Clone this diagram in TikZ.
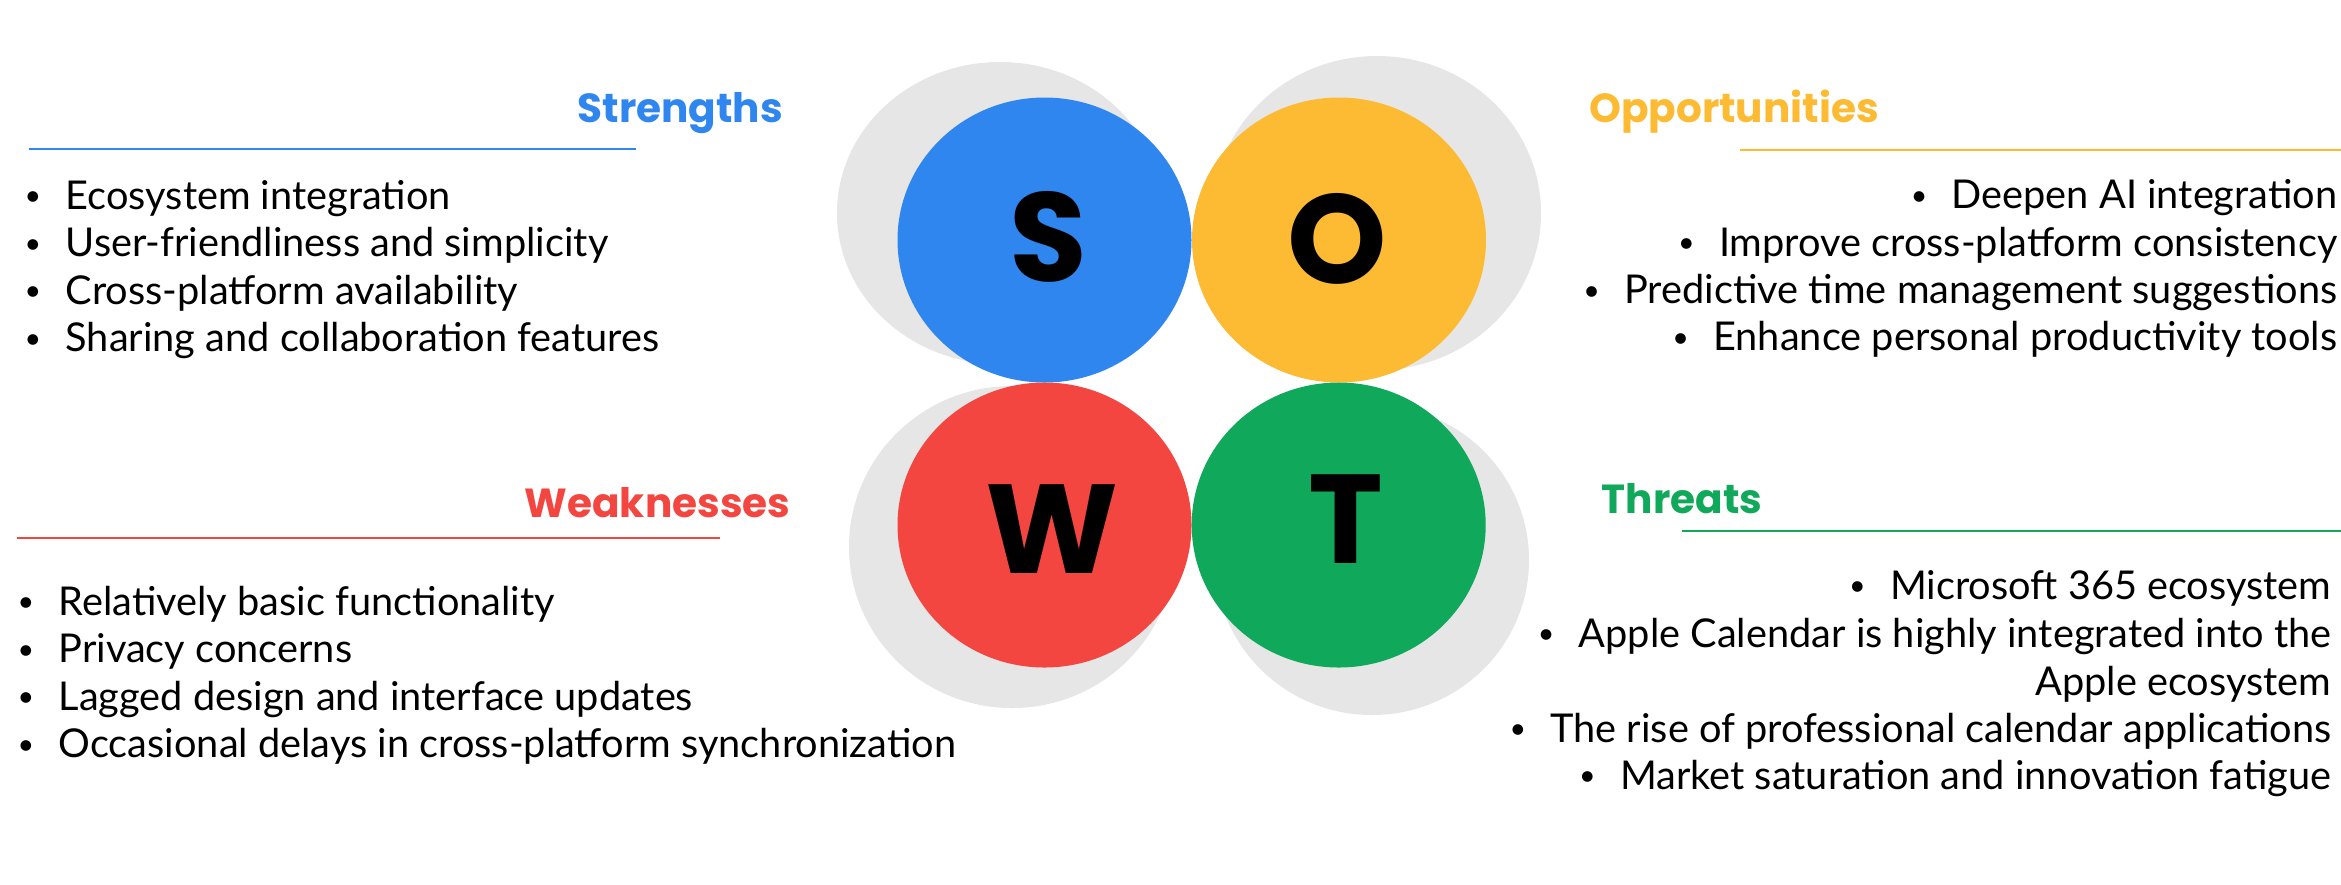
\documentclass[tikz,border=0pt]{standalone}
\usepackage{fontspec}
\setmainfont{Lato}
\newfontfamily\bodyfont{Lato}
\newfontfamily\letterfont{Poppins}
\usetikzlibrary{shapes.geometric}
\definecolor{sblue}{HTML}{2E86EE}
\definecolor{oyellow}{HTML}{FDBA33}
\definecolor{wred}{HTML}{F44640}
\definecolor{tgreen}{HTML}{10A85A}
\definecolor{halo}{HTML}{E6E6E6}
\tikzset{
  halodisc/.style={ellipse, fill=halo, draw=none, inner sep=0pt},
  colordisc/.style={ellipse, draw=none, inner sep=0pt},
  bigletter/.style={inner sep=0pt, text=black, font=\letterfont\bfseries\fontsize{36}{36}\selectfont},
  sectitle/.style={inner sep=0pt, anchor=base west, font=\letterfont\bfseries\fontsize{11.55}{14}\selectfont},
  leftitem/.style={inner sep=0pt, anchor=base west, font=\bodyfont\fontsize{11.3}{13.5}\selectfont},
  rightitem/.style={inner sep=0pt, anchor=base east, font=\bodyfont\fontsize{11.3}{13.5}\selectfont},
  sepline/.style={line width=0.6pt},
}
\newcommand{\bul}{\makebox[4.1mm][l]{\raisebox{0.9pt}{\scalebox{0.72}{\textbullet}}}}
\begin{document}
\begin{tikzpicture}[x=0.1mm, y=-0.1mm]
\useasboundingbox (0,0) rectangle (2341,884);
\fill[white] (0,0) rectangle (2341,884);

% halo discs
\node[halodisc, minimum width=32.6mm, minimum height=30.2mm] (hs) at (1000,213) {};
\node[halodisc, minimum width=32.8mm, minimum height=31.4mm] (ho) at (1377,213) {};
\node[halodisc, minimum width=32.6mm, minimum height=32.2mm] (hw) at (1012,547) {};
\node[halodisc, minimum width=31.4mm, minimum height=31.0mm] (ht) at (1372,560) {};

% coloured discs
\node[colordisc, fill=sblue, minimum width=29.4mm, minimum height=28.5mm] (cs) at (1044.5,240) {};
\node[colordisc, fill=oyellow, minimum width=29.4mm, minimum height=28.5mm] (co) at (1339,240) {};
\node[colordisc, fill=wred, minimum width=29.4mm, minimum height=28.5mm] (cw) at (1044.5,525) {};
\node[colordisc, fill=tgreen, minimum width=29.4mm, minimum height=28.5mm] (ct) at (1338.7,525) {};

% letters
\node[bigletter] (ls) at (1048.7,236.7) {S};
\node[bigletter] (lo) at (1337.7,239) {O};
\node[bigletter] (lw) at (1052,529) {W};
\node[bigletter] (lt) at (1346.3,519) {T};

% titles
\node[sectitle, text=sblue] (ts) at (577,122) {Strengths};
\node[sectitle, text=oyellow] (to) at (1588.5,122) {Opportunities};
\node[sectitle, text=wred] (tw) at (524,517) {Weaknesses};
\node[sectitle, text=tgreen] (tt) at (1601,513) {Threats};

% separator lines
\coordinate (bl1) at (28.7,149);
\coordinate (bl2) at (635.5,149);
\coordinate (yl1) at (1740,150);
\coordinate (yl2) at (2341,150);
\coordinate (rl1) at (17,538);
\coordinate (rl2) at (720,538);
\coordinate (gl1) at (1682,531);
\coordinate (gl2) at (2341,531);
\draw[sepline, sblue] (bl1) -- (bl2);
\draw[sepline, oyellow] (yl1) -- (yl2);
\draw[sepline, wred] (rl1) -- (rl2);
\draw[sepline, tgreen] (gl1) -- (gl2);

% strengths
\node[leftitem] (s1) at (24,209) {\bul Ecosystem integration};
\node[leftitem] (s2) at (24,256.5) {\bul User-friendliness and simplicity};
\node[leftitem] (s3) at (24,304) {\bul Cross-platform availability};
\node[leftitem] (s4) at (24,351.5) {\bul Sharing and collaboration features};

% opportunities
\node[rightitem] (o1) at (2338,208.5) {\bul Deepen AI integration};
\node[rightitem] (o2) at (2338,256) {\bul Improve cross-platform consistency};
\node[rightitem] (o3) at (2338,303.5) {\bul Predictive time management suggestions};
\node[rightitem] (o4) at (2338,350.5) {\bul Enhance personal productivity tools};

% weaknesses
\node[leftitem] (w1) at (17,615) {\bul Relatively basic functionality};
\node[leftitem] (w2) at (17,662.5) {\bul Privacy concerns};
\node[leftitem] (w3) at (17,710) {\bul Lagged design and interface updates};
\node[leftitem] (w4) at (17,757.5) {\bul Occasional delays in cross-platform synchronization};

% threats
\node[rightitem] (t1) at (2332,599) {\bul Microsoft 365 ecosystem};
\node[rightitem] (t2) at (2332,647) {\bul Apple Calendar is highly integrated into the};
\node[rightitem] (t2b) at (2332,695) {Apple ecosystem};
\node[rightitem] (t3) at (2332,742) {\bul The rise of professional calendar applications};
\node[rightitem] (t4) at (2332,789) {\bul Market saturation and innovation fatigue};
\end{tikzpicture}
\end{document}
